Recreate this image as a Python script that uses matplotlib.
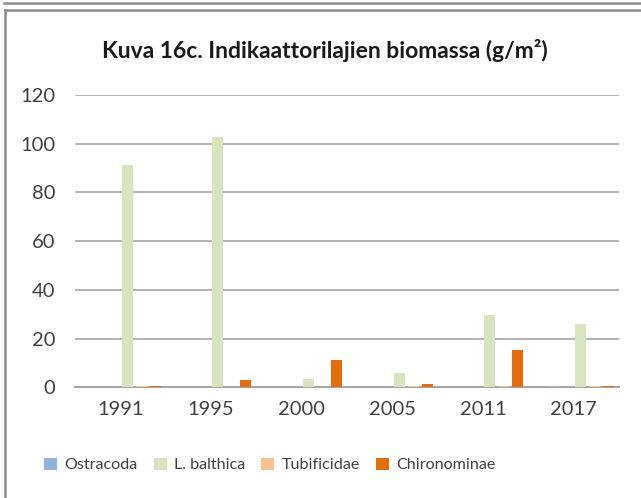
import numpy as np
import matplotlib
matplotlib.use("Agg")
from matplotlib import pyplot as plt
from matplotlib.lines import Line2D

plt.rcParams['font.family'] = ['Lato', 'DejaVu Sans']

years = ["1991", "1995", "2000", "2005", "2011", "2017"]
# the workbook holds two empty series that take up slots but have no legend entry
hidden_a = [0, 0, 0, 0, 0, 0]
ostracoda = [0, 0, 0, 0, 0, 0.6]
hidden_b = [0, 0, 0, 0, 0, 0]
l_balthica = [91.2, 102.7, 3.3, 6.0, 29.6, 25.9]
tubificidae = [0.5, 0, 0, 0.5, 0.5, 0.5]
chironominae = [0.7, 2.8, 11.2, 1.2, 15.3, 0.6]

series = [
    (None, hidden_a, "none"),
    ("Ostracoda", ostracoda, "#8EB4E3"),
    (None, hidden_b, "none"),
    ("L. balthica", l_balthica, "#D7E4BD"),
    ("Tubificidae", tubificidae, "#FAC090"),
    ("Chironominae", chironominae, "#E46C0A"),
]

W, H = 641, 498
fig = plt.figure(figsize=(W / 100, H / 100), dpi=100)
ax = fig.add_axes([75 / W, 1 - 387.3 / H, (619 - 75) / W, (387.3 - 95) / H])

x = np.arange(len(years))
pitch = 14 / 90.7
width = 11 / 90.7
handles = []
for i, (name, vals, col) in enumerate(series):
    b = ax.bar(x + (i - 2.5) * pitch, vals, width, color=col, label=name, zorder=3)
    if name:
        handles.append(b)

ax.set_xlim(-0.5, len(years) - 0.5)
ax.set_ylim(0, 120)
ax.set_yticks(range(0, 121, 20))
ax.set_xticks(x)
ax.set_xticklabels(years)
ax.yaxis.grid(True, color="#A6A6A6", linewidth=1.2, zorder=0)
for s in ["top", "right", "left"]:
    ax.spines[s].set_visible(False)
ax.spines["bottom"].set_color("#A6A6A6")
ax.spines["bottom"].set_linewidth(1.5)
ax.tick_params(axis="both", length=0, labelsize=14.5, colors="#404040")
ax.tick_params(axis="y", pad=14)
ax.tick_params(axis="x", pad=10)

fig.text(325 / W, 1 - 50 / H, "Kuva 16c. Indikaattorilajien biomassa (g/m²)",
         ha="center", va="center", fontsize=16.5, fontweight="bold", color="#1a1a1a")

fig.legend(handles=handles, loc="center", bbox_to_anchor=(270 / W, 1 - 465 / H),
           ncol=4, frameon=False, fontsize=11.6, handlelength=0.8, handleheight=0.8,
           handletextpad=0.45, columnspacing=1.0, labelcolor="#404040")

# outer frame lines of the screenshot
fig.add_artist(Line2D([4 / W, 1], [1 - 3 / H, 1 - 3 / H], color="#8c8c8c", linewidth=1.8))
fig.add_artist(Line2D([5 / W, 1], [1 - 10 / H, 1 - 10 / H], color="#8c8c8c", linewidth=1.8))
fig.add_artist(Line2D([5 / W, 5 / W], [0, 1 - 10 / H], color="#8c8c8c", linewidth=1.8))

fig.savefig("out.png", dpi=100)
